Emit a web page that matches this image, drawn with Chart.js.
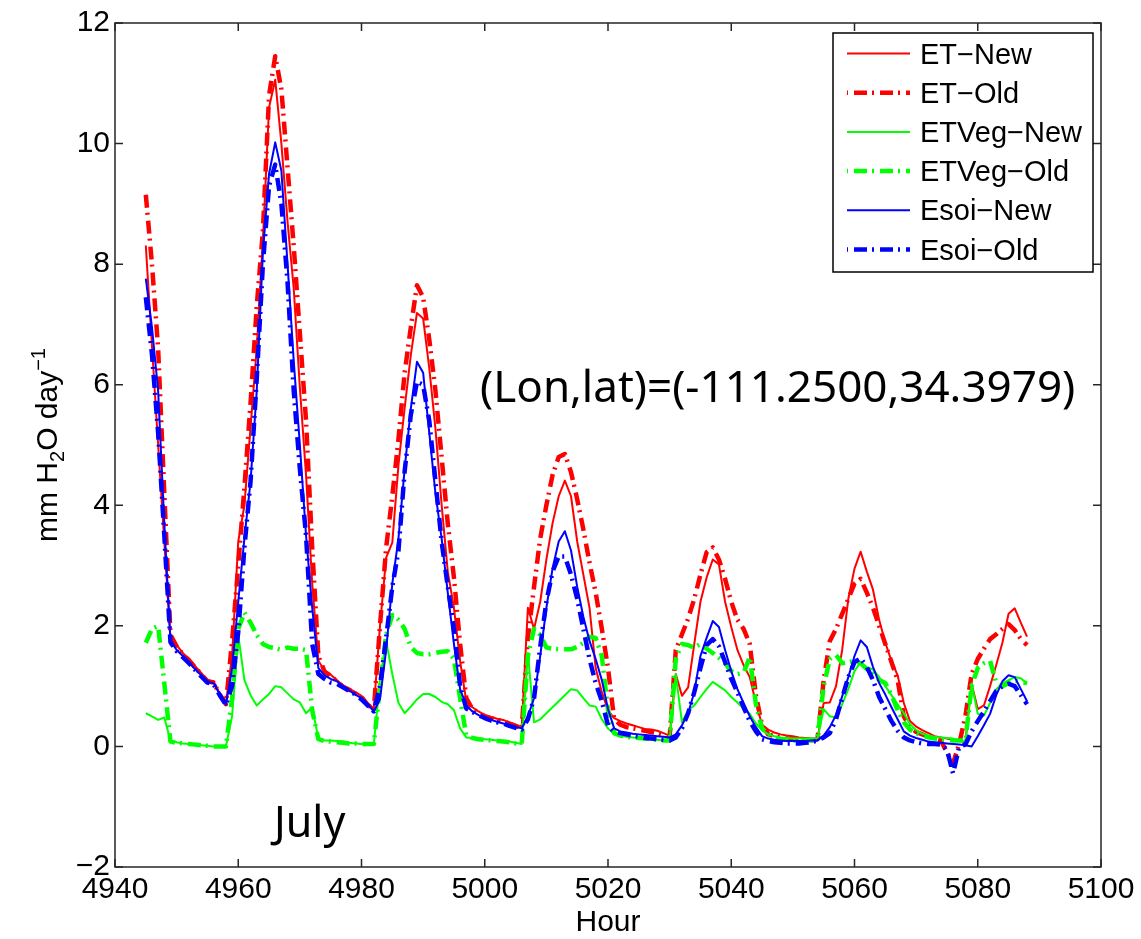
<!DOCTYPE html>
<html><head><meta charset="utf-8">
<script src="https://cdn.jsdelivr.net/npm/chart.js@4.4.1/dist/chart.umd.min.js"></script>
<style>html,body{margin:0;padding:0;background:#fff;}#wrap{width:1141px;height:939px;position:relative;background:#fff;}</style>
</head><body><div id="wrap"><canvas id="c" width="1141" height="939"></canvas></div>
<script>
// ---- data (hourly) ----
const hours = [
4945,4946,4947,4948,4949,4950,4951,4952,4953,4954,4955,4956,4957,4958,
4959,4960,4961,4962,4963,4964,4965,4966,4967,4968,4969,4970,4971,4972,4973,4974,4975,4976,4977,4978,4979,4980,4981,4982,
4983,4984,4985,4986,4987,4988,4989,4990,4991,4992,4993,4994,4995,4996,4997,4998,4999,5000,5001,5002,5003,5004,5005,5006,
5007,5008,5009,5010,5011,5012,5013,5014,5015,5016,5017,5018,5019,5020,5021,5022,5023,5024,5025,5026,5027,5028,5029,5030,
5031,5032,5033,5034,5035,5036,5037,5038,5039,5040,5041,5042,5043,5044,5045,5046,5047,5048,5049,5050,5051,5052,5053,5054,
5055,5056,5057,5058,5059,5060,5061,5062,5063,5064,5065,5066,5067,5068,5069,5070,5071,5072,5073,5074,5075,5076,5077,5078,
5079,5080,5081,5082,5083,5084,5085,5086,5087,5088];

const etNew = [
8.31,6.64,5.00,3.40,1.80,1.68,1.55,1.45,1.33,1.22,1.10,1.08,0.88,0.72,
1.50,3.40,4.00,5.30,6.60,8.40,10.60,11.06,10.00,8.70,7.60,5.95,4.50,2.70,1.42,1.26,1.19,1.10,1.01,0.96,0.90,0.84,0.71,0.63,
2.00,3.13,3.38,4.67,5.61,6.49,7.19,7.10,6.27,5.27,4.01,2.90,2.30,1.42,0.75,0.65,0.58,0.52,0.49,0.46,0.44,0.40,0.36,0.32,
2.30,1.95,2.40,3.10,3.70,4.15,4.41,4.15,3.40,2.85,2.30,1.30,0.90,0.60,0.47,0.42,0.38,0.35,0.32,0.29,0.28,0.26,0.22,0.18,
1.20,0.84,0.98,1.70,2.40,2.80,3.10,3.02,2.40,1.98,1.60,1.35,1.15,0.72,0.36,0.28,0.23,0.20,0.18,0.17,0.15,0.14,0.13,0.12,
0.72,0.73,1.00,1.60,2.45,2.95,3.23,2.90,2.60,2.10,1.72,1.42,1.18,0.72,0.42,0.33,0.27,0.22,0.17,0.15,0.13,0.11,0.09,0.07,
1.04,0.62,0.68,1.00,1.35,1.72,2.20,2.29,2.05,1.82];

const etOld = [
9.15,8.00,6.60,4.20,1.85,1.66,1.53,1.43,1.31,1.20,1.08,1.06,0.86,0.70,
1.75,3.00,4.30,5.70,7.30,8.55,10.80,11.45,10.90,9.60,8.30,6.85,5.40,3.30,1.50,1.24,1.17,1.08,0.99,0.94,0.88,0.82,0.69,0.61,
2.00,3.30,4.15,5.10,6.20,6.95,7.65,7.45,6.75,5.90,4.80,3.70,2.80,1.70,0.80,0.62,0.56,0.50,0.47,0.44,0.42,0.38,0.34,0.30,
1.80,2.65,3.45,4.00,4.50,4.80,4.85,4.55,4.10,3.60,3.05,2.55,1.95,1.30,0.45,0.36,0.32,0.30,0.28,0.26,0.24,0.22,0.19,0.15,
1.60,1.86,2.12,2.45,2.85,3.22,3.30,3.10,2.78,2.40,2.10,1.95,1.70,0.85,0.35,0.20,0.17,0.15,0.13,0.12,0.11,0.10,0.10,0.12,
1.10,1.75,1.95,2.20,2.45,2.70,2.78,2.55,2.30,2.00,1.70,1.40,1.10,0.50,0.32,0.24,0.20,0.16,0.13,0.10,-0.10,-0.28,0.05,0.50,
1.20,1.45,1.62,1.78,1.86,1.95,2.03,1.93,1.78,1.68];

const vegNew = [
0.55,0.50,0.44,0.48,0.10,0.07,0.05,0.04,0.03,0.02,0.01,0.00,0.00,0.00,
0.50,1.85,1.10,0.85,0.68,0.78,0.87,1.00,0.98,0.88,0.78,0.73,0.55,0.65,0.13,0.10,0.10,0.09,0.08,0.06,0.05,0.04,0.03,0.04,
1.10,1.75,1.20,0.72,0.55,0.66,0.78,0.87,0.87,0.82,0.74,0.70,0.60,0.30,0.15,0.14,0.13,0.12,0.11,0.10,0.09,0.08,0.06,0.04,
1.55,0.40,0.45,0.55,0.65,0.75,0.85,0.95,0.93,0.80,0.68,0.66,0.45,0.30,0.20,0.18,0.16,0.15,0.14,0.13,0.12,0.11,0.10,0.10,
1.20,0.40,0.60,0.68,0.82,0.95,1.07,1.00,0.93,0.82,0.73,0.63,0.54,0.38,0.27,0.20,0.17,0.15,0.14,0.13,0.13,0.13,0.13,0.13,
0.62,0.50,0.48,0.70,0.95,1.25,1.40,1.31,1.28,1.15,1.00,0.85,0.70,0.55,0.37,0.27,0.21,0.18,0.16,0.15,0.14,0.13,0.10,0.08,
1.04,0.54,0.51,0.72,0.95,1.04,1.10,1.15,1.13,1.04];

const vegOld = [
1.72,1.95,2.00,1.05,0.08,0.06,0.05,0.04,0.03,0.02,0.01,0.00,0.00,0.00,
0.80,1.95,2.22,2.05,1.85,1.70,1.65,1.63,1.60,1.64,1.62,1.62,1.60,0.60,0.12,0.09,0.08,0.07,0.06,0.05,0.05,0.04,0.04,0.04,
1.00,1.85,2.18,2.10,1.95,1.65,1.55,1.53,1.53,1.55,1.57,1.58,1.45,0.80,0.18,0.14,0.12,0.11,0.10,0.09,0.08,0.07,0.05,0.04,
1.50,1.95,1.85,1.64,1.62,1.61,1.61,1.61,1.65,1.72,1.82,1.80,1.50,0.60,0.22,0.18,0.16,0.15,0.14,0.13,0.12,0.11,0.10,0.10,
1.45,1.70,1.68,1.64,1.70,1.62,1.55,1.47,1.38,1.25,1.20,1.22,1.48,0.70,0.30,0.20,0.15,0.12,0.11,0.10,0.10,0.10,0.10,0.15,
1.00,1.45,1.52,1.38,1.40,1.42,1.38,1.28,1.20,1.10,1.05,0.85,0.60,0.40,0.28,0.22,0.18,0.15,0.13,0.12,0.11,0.10,0.10,0.10,
1.00,1.30,1.38,1.42,1.05,1.00,1.05,1.09,1.07,1.05];

const soilNew = [
7.76,6.95,5.90,3.70,1.75,1.60,1.50,1.40,1.28,1.18,1.07,1.05,0.86,0.69,
1.30,2.40,3.45,4.40,5.90,8.20,9.50,10.02,9.55,8.00,6.40,5.00,3.50,2.30,1.30,1.18,1.12,1.08,1.00,0.93,0.86,0.80,0.70,0.58,
0.78,1.60,2.70,3.45,4.60,5.60,6.38,6.20,5.20,4.20,3.45,2.55,1.70,0.95,0.68,0.58,0.52,0.47,0.44,0.41,0.38,0.35,0.32,0.30,
0.50,0.80,1.50,2.30,2.95,3.40,3.57,3.25,2.65,2.15,1.75,1.45,1.10,0.62,0.30,0.25,0.23,0.21,0.20,0.19,0.18,0.17,0.16,0.15,
0.20,0.35,0.55,0.90,1.50,1.80,2.08,1.98,1.60,1.25,0.95,0.72,0.50,0.32,0.17,0.13,0.11,0.10,0.09,0.09,0.09,0.09,0.10,0.10,
0.18,0.32,0.52,0.83,1.15,1.50,1.76,1.65,1.32,1.05,0.86,0.65,0.45,0.25,0.18,0.14,0.11,0.08,0.07,0.06,0.05,0.04,0.03,0.02,
0.00,0.17,0.35,0.54,0.85,1.08,1.18,1.15,0.95,0.75];

const soilOld = [
7.45,6.50,5.20,3.50,1.73,1.58,1.48,1.38,1.27,1.16,1.06,1.03,0.85,0.69,
1.00,1.90,3.30,4.40,6.10,8.00,9.30,9.65,9.00,7.70,5.90,4.60,3.50,1.70,1.20,1.12,1.06,1.04,0.98,0.92,0.86,0.78,0.68,0.58,
1.00,1.80,2.65,3.25,4.56,5.50,6.05,6.00,5.40,4.40,3.40,2.65,1.95,1.00,0.63,0.57,0.52,0.47,0.43,0.40,0.38,0.34,0.31,0.28,
0.45,0.80,1.65,2.40,2.90,3.15,3.15,2.85,2.45,1.95,1.45,1.05,0.75,0.35,0.24,0.22,0.20,0.18,0.16,0.14,0.13,0.12,0.11,0.10,
0.15,0.30,0.55,0.90,1.30,1.68,1.78,1.66,1.40,1.12,0.90,0.65,0.42,0.25,0.12,0.09,0.07,0.06,0.05,0.05,0.05,0.06,0.07,0.10,
0.15,0.22,0.45,0.80,1.15,1.40,1.46,1.32,1.10,0.82,0.62,0.42,0.26,0.15,0.10,0.07,0.05,0.04,0.04,0.03,-0.05,-0.45,0.00,0.03,
0.25,0.42,0.58,0.75,0.92,1.00,1.04,1.00,0.85,0.70];

const seriesLabels = ['ET\u2212New','ET\u2212Old','ETVeg\u2212New','ETVeg\u2212Old','Esoi\u2212New','Esoi\u2212Old'];
const xTicks = {min: 4940, max: 5100, step: 20};
const yTicks = {min: -2, max: 12, step: 2};
const xTitle = 'Hour';
const noteCoord = '(Lon,lat)=(-111.2500,34.3979)';
const noteMonth = 'July';

// ---- build ----
const pts = arr => hours.map((h, i) => ({x: h, y: arr[i]}));
const DASH = [13, 5, 2, 6];
const mk = (label, arr, color, old, order) => ({
  label, data: pts(arr), borderColor: color, backgroundColor: color,
  borderWidth: old ? 4.5 : 2, borderDash: old ? DASH : [], borderCapStyle: 'butt',
  borderJoinStyle: 'round', pointRadius: 0, fill: false, tension: 0, order
});
const datasets = [
  mk(seriesLabels[0], etNew, '#ff0000', false, 6),
  mk(seriesLabels[1], etOld, '#ff0000', true, 5),
  mk(seriesLabels[2], vegNew, '#00ff00', false, 4),
  mk(seriesLabels[3], vegOld, '#00ff00', true, 3),
  mk(seriesLabels[4], soilNew, '#0000ff', false, 2),
  mk(seriesLabels[5], soilOld, '#0000ff', true, 1)
];

const AX = '#262626';
const tickFont = {family: '"Liberation Sans", Arial, sans-serif', size: 30};

const framePlugin = {
  id: 'frame',
  afterDatasetsDraw(chart) {
    const {ctx, chartArea: a, scales: {x, y}} = chart;
    ctx.save();
    ctx.strokeStyle = AX; ctx.lineWidth = 1.5; ctx.setLineDash([]);
    ctx.strokeRect(a.left, a.top, a.right - a.left, a.bottom - a.top);
    const L = 8;
    ctx.beginPath();
    x.ticks.forEach(t => {
      const p = x.getPixelForValue(t.value);
      ctx.moveTo(p, a.bottom); ctx.lineTo(p, a.bottom - L);
      ctx.moveTo(p, a.top); ctx.lineTo(p, a.top + L);
    });
    y.ticks.forEach(t => {
      const p = y.getPixelForValue(t.value);
      ctx.moveTo(a.left, p); ctx.lineTo(a.left + L, p);
      ctx.moveTo(a.right, p); ctx.lineTo(a.right - L, p);
    });
    ctx.stroke();
    ctx.restore();
  }
};

const extrasPlugin = {
  id: 'extras',
  afterDraw(chart) {
    const {ctx} = chart;
    ctx.save();
    // legend
    const Lx = 833, Ty = 33, Rx = 1093, By = 272;
    ctx.fillStyle = '#fff'; ctx.fillRect(Lx, Ty, Rx - Lx, By - Ty);
    ctx.strokeStyle = '#000'; ctx.lineWidth = 1.5; ctx.strokeRect(Lx, Ty, Rx - Lx, By - Ty);
    chart.data.datasets.forEach((ds, i) => {
      const ty = 55.5 + i * 39.2;
      ctx.beginPath();
      ctx.setLineDash(ds.borderDash || []);
      ctx.lineDashOffset = ds.borderDash && ds.borderDash.length ? 19 : 0;
      ctx.lineWidth = ds.borderWidth; ctx.strokeStyle = ds.borderColor; ctx.lineCap = 'butt';
      ctx.moveTo(847, ty - 2); ctx.lineTo(910, ty - 2); ctx.stroke();
      ctx.setLineDash([]); ctx.lineDashOffset = 0;
      ctx.fillStyle = '#000';
      ctx.font = '29px "Liberation Sans", Arial, sans-serif';
      ctx.textBaseline = 'middle'; ctx.textAlign = 'left';
      ctx.fillText(ds.label, 920, ty);
    });
    // annotations
    ctx.fillStyle = '#000';
    ctx.textBaseline = 'alphabetic'; ctx.textAlign = 'left';
    ctx.font = '44px "Noto Sans", "Open Sans", sans-serif';
    ctx.fillText(noteCoord, 480, 402);
    ctx.font = '43px "Noto Sans", "Open Sans", sans-serif';
    ctx.fillText(noteMonth, 274, 837);
    // y-axis title with sub/superscript
    ctx.translate(46, (chart.chartArea.top + chart.chartArea.bottom) / 2);
    ctx.rotate(-Math.PI / 2);
    const big = '30px "Liberation Sans", Arial, sans-serif';
    const small = '20px "Liberation Sans", Arial, sans-serif';
    const parts = [['mm H', big, 0], ['2', small, 7], ['O day', big, 0], ['\u22121', small, -12]];
    let total = 0;
    parts.forEach(p => { ctx.font = p[1]; p.push(ctx.measureText(p[0]).width); total += p[3]; });
    let cx = -total / 2;
    parts.forEach(p => { ctx.font = p[1]; ctx.fillText(p[0], cx, 11 + p[2]); cx += p[3]; });
    ctx.restore();
  }
};

new Chart(document.getElementById('c'), {
  type: 'line',
  data: {datasets},
  options: {
    responsive: false, animation: false, devicePixelRatio: 1,
    layout: {padding: {top: 20, right: 40, left: 0, bottom: 0}},
    plugins: {legend: {display: false}, tooltip: {enabled: false}},
    scales: {
      x: {
        type: 'linear', min: xTicks.min, max: xTicks.max,
        ticks: {stepSize: xTicks.step, color: '#000', font: tickFont, padding: 5, maxRotation: 0, autoSkip: false,
                callback: v => String(v)},
        grid: {display: false, drawTicks: false}, border: {display: false},
        title: {display: true, text: xTitle, color: '#000', font: tickFont, padding: {top: 0, bottom: -2}},
        afterFit(s) { s.height = 72; }
      },
      y: {
        type: 'linear', min: yTicks.min, max: yTicks.max,
        ticks: {stepSize: yTicks.step, color: '#000', font: tickFont, padding: 5,
                callback: v => v < 0 ? '\u2212' + Math.abs(v) : String(v)},
        grid: {display: false, drawTicks: false}, border: {display: false},
        afterFit(s) { s.width = 115; }
      }
    }
  },
  plugins: [framePlugin, extrasPlugin]
});
</script></body></html>
